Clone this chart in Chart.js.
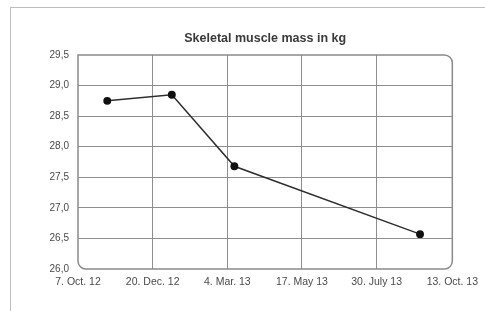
<!DOCTYPE html>
<html>
<head>
<meta charset="utf-8">
<script src="https://cdn.jsdelivr.net/npm/chart.js@4"></script>
<style>
    html, body { margin: 0; padding: 0; background: #fff; }
    #frame {
        position: absolute; left: 10px; top: 7px;
        width: 474px; height: 303px;
        border-top: 1px solid #bdbdbd;
        border-left: 1px solid #bdbdbd;
    }
</style>
</head>
<body>
<div id="frame"><canvas id="myChart" width="474" height="303"></canvas></div>
<script>
// days counted from 7. Oct. 12
var tickDays = [0, 74, 148, 222, 296, 371];
var xTickLabels = ['7. Oct. 12', '20. Dec. 12', '4. Mar. 13', '17. May 13', '30. July 13', '13. Oct. 13'];
var measureDays = [29, 93, 155, 339];
var muscleMass = [28.75, 28.85, 27.68, 26.57];

// rounded frame around the plot area
var plotFrame = {
    id: 'plotFrame',
    afterDraw: function (chart) {
        var a = chart.chartArea, c = chart.ctx;
        c.save();
        c.strokeStyle = '#8a8a8a';
        c.lineWidth = 1.5;
        c.beginPath();
        c.roundRect(a.left, a.top, a.right - a.left, a.bottom - a.top, [0, 8, 8, 8]);
        c.stroke();
        c.restore();
    }
};

var ctx = document.getElementById('myChart').getContext('2d');
var myChart = new Chart(ctx, {
    type: 'line',
    data: {
        datasets: [{
            data: measureDays.map(function (d, i) { return { x: d, y: muscleMass[i] }; }),
            borderColor: '#2e2e2e',
            borderWidth: 1.5,
            pointRadius: 3.2,
            pointBackgroundColor: '#111',
            pointBorderColor: '#111',
            tension: 0
        }]
    },
    options: {
        responsive: false,
        animation: false,
        layout: { padding: { left: 0, right: 32, top: 0, bottom: 0 } },
        scales: {
            x: {
                type: 'linear',
                min: 0,
                max: 371,
                afterBuildTicks: function (scale) {
                    scale.ticks = tickDays.map(function (v) { return { value: v }; });
                },
                afterFit: function (scale) { scale.height = 42; },
                ticks: {
                    autoSkip: false,
                    maxRotation: 0,
                    padding: 7,
                    color: '#4a4a4a',
                    font: { family: 'Liberation Sans', size: 10.5 },
                    callback: function (value, index) { return xTickLabels[index]; }
                },
                grid: {
                    color: function (c) { return c.index === tickDays.length - 1 || c.index === 0 ? 'rgba(0,0,0,0)' : '#8e8e8e'; },
                    drawTicks: false
                },
                border: { display: false }
            },
            y: {
                min: 26,
                max: 29.5,
                afterFit: function (scale) { scale.width = 67; },
                ticks: {
                    stepSize: 0.5,
                    padding: 9,
                    color: '#4a4a4a',
                    font: { family: 'Liberation Sans', size: 10 },
                    callback: function (value) { return value.toFixed(1).replace('.', ','); }
                },
                grid: {
                    color: function (c) { return c.index === 0 || c.tick.value === 29.5 ? 'rgba(0,0,0,0)' : '#8e8e8e'; },
                    drawTicks: false
                },
                border: { display: false }
            }
        },
        plugins: {
            legend: { display: false },
            tooltip: { enabled: false },
            title: {
                display: true,
                fullSize: false,
                text: 'Skeletal muscle mass in kg',
                color: '#3a3a3a',
                font: { family: 'Liberation Sans', size: 12.5, weight: 'bold' },
                padding: { top: 23, bottom: 9 }
            }
        }
    },
    plugins: [plotFrame]
});
</script>
</body>
</html>
